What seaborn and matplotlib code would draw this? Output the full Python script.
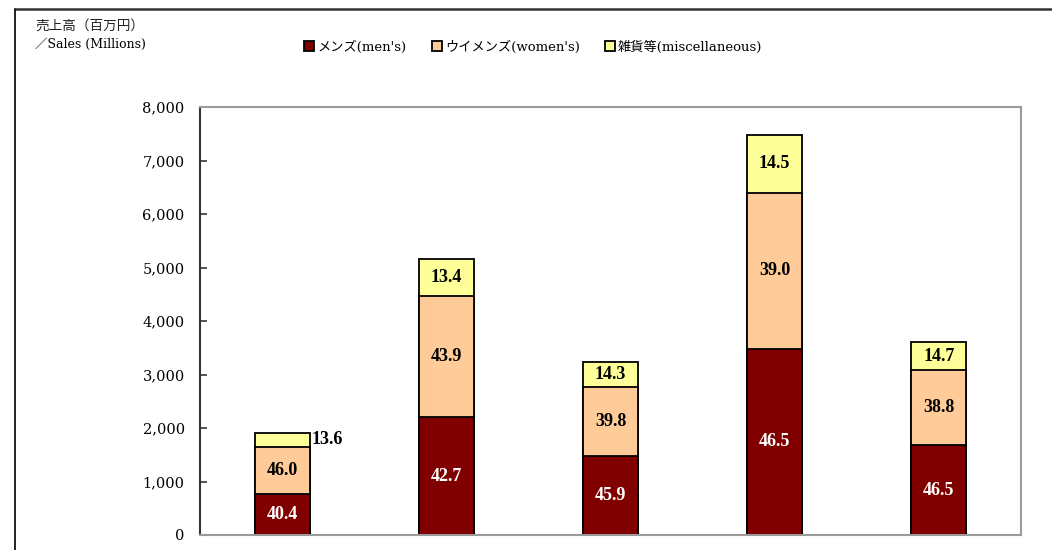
import matplotlib
matplotlib.use("Agg")
import matplotlib.pyplot as plt
import matplotlib.lines as mlines
from matplotlib.patches import Patch
from matplotlib.ticker import FuncFormatter
import numpy as np
import pandas as pd
import seaborn as sns

# ---- data ----
categories = ["1", "2", "3", "4", "5"]
mens = [770, 2203, 1484, 3477, 1677]
womens = [877, 2265, 1287, 2916, 1400]
misc = [259, 691, 462, 1084, 530]
mens_pct = ["40.4", "42.7", "45.9", "46.5", "46.5"]
womens_pct = ["46.0", "43.9", "39.8", "39.0", "38.8"]
misc_pct = ["13.6", "13.4", "14.3", "14.5", "14.7"]
series_names = ["メンズ(men's)", "ウイメンズ(women's)", "雑貨等(miscellaneous)"]
yticks = [0, 1000, 2000, 3000, 4000, 5000, 6000, 7000, 8000]

col_men = "#800000"
col_women = "#FFCC99"
col_misc = "#FFFF99"

sns.set_style("white")
plt.rcParams["font.family"] = ["DejaVu Serif", "Noto Sans CJK JP"]
plt.rcParams["text.color"] = "black"

df = pd.DataFrame({
    "cat": categories,
    "men": mens,
    "women": womens,
    "misc": misc,
})
df["mw"] = df["men"] + df["women"]
df["total"] = df["mw"] + df["misc"]

fig = plt.figure(figsize=(10.52, 5.5), dpi=100)
ax = fig.add_axes([200 / 1052, 1 - 535 / 550, 821 / 1052, 428 / 550])

bw = 0.335
lw = 1.3
for col, c in [("total", col_misc), ("mw", col_women), ("men", col_men)]:
    sns.barplot(data=df, x="cat", y=col, color=c, saturation=1, width=bw,
                edgecolor="black", linewidth=lw, errorbar=None, ax=ax)

ax.set_xlim(-0.5, len(categories) - 0.5)
ax.set_ylim(0, 8000)
ax.set_yticks(yticks)
ax.yaxis.set_major_formatter(FuncFormatter(lambda v, p: f"{int(v):,}"))
ax.tick_params(axis="y", direction="in", length=5, width=1.2, color="#333333",
               pad=11, labelsize=10.5, left=True, labelcolor="black")
ax.tick_params(axis="x", bottom=False, labelbottom=False)
ax.set_xlabel("")
ax.set_ylabel("")
for s in ["top", "right", "bottom"]:
    ax.spines[s].set_color("#9a9a9a")
    ax.spines[s].set_linewidth(1.5)
ax.spines["left"].set_color("#333333")
ax.spines["left"].set_linewidth(1.5)
for lab in ax.get_yticklabels():
    lab.set_fontfamily("DejaVu Serif")

lbl_font = dict(fontfamily="Liberation Serif", fontweight="bold", fontsize=13)
for i in range(len(categories)):
    m, w, s = mens[i], womens[i], misc[i]
    ax.text(i, m / 2, mens_pct[i], ha="center", va="center", color="white", **lbl_font)
    ax.text(i, m + w / 2, womens_pct[i], ha="center", va="center", color="black", **lbl_font)
    if i == 0:
        ax.text(i + bw / 2 + 0.012, m + w + s / 2, misc_pct[i], ha="left", va="center",
                color="black", **lbl_font)
    else:
        ax.text(i, m + w + s / 2, misc_pct[i], ha="center", va="center", color="black", **lbl_font)

# legend
handles = [Patch(facecolor=c, edgecolor="black", linewidth=1.3) for c in (col_men, col_women, col_misc)]
leg = fig.legend(handles, series_names, loc="center", bbox_to_anchor=(0.507, 1 - 47 / 550),
                 ncol=3, frameon=False, handlelength=0.75, handleheight=0.75, handletextpad=0.25,
                 columnspacing=1.9, prop={"family": ["DejaVu Serif", "Noto Sans CJK JP"], "size": 9.5})
for t in leg.get_texts():
    t.set_color("black")

# header text
fig.text(35 / 1052, 1 - 26 / 550, "売上高（百万円）", ha="left", va="center", color="#222222",
         fontsize=9.8, family=["Noto Sans CJK JP", "DejaVu Serif"])
fig.text(35 / 1052, 1 - 44 / 550, "／Sales (Millions)", ha="left", va="center", color="black",
         fontsize=9.0, family=["DejaVu Serif", "Noto Sans CJK JP"])

# outer frame lines
fig.add_artist(mlines.Line2D([15 / 1052, 1], [1 - 9 / 550, 1 - 9 / 550], color="#333333", linewidth=1.8,
                             transform=fig.transFigure))
fig.add_artist(mlines.Line2D([15 / 1052, 15 / 1052], [0, 1 - 9 / 550], color="#111111", linewidth=1.3,
                             transform=fig.transFigure))

fig.savefig("out.png", dpi=100)
